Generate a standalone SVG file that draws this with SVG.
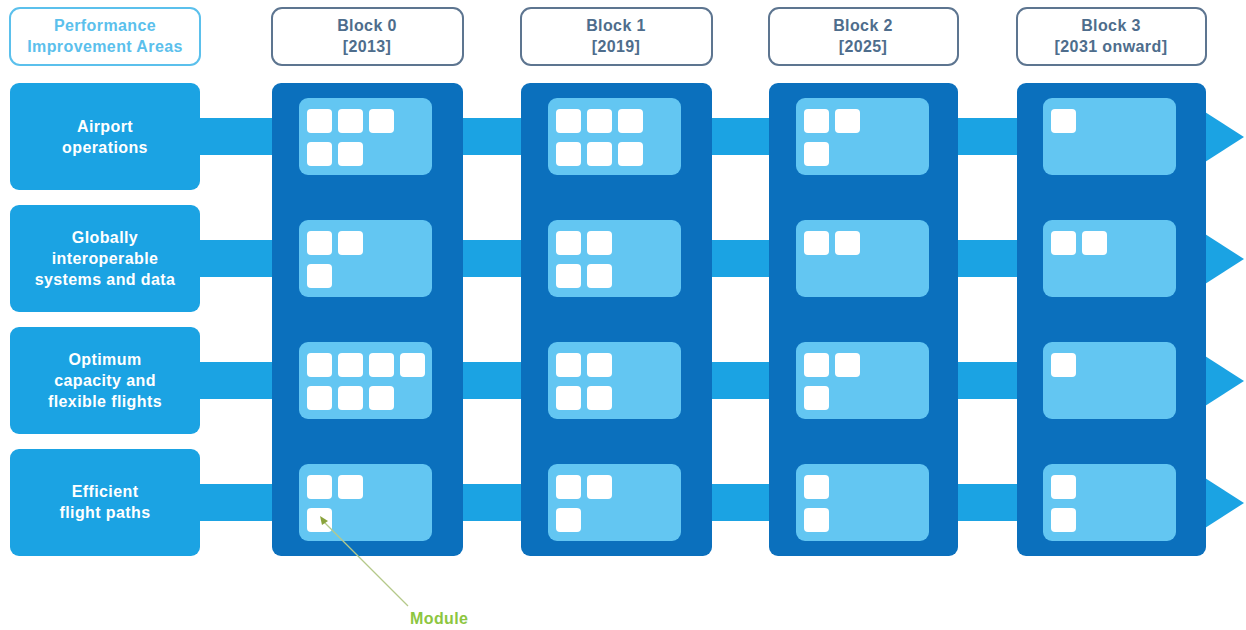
<svg xmlns="http://www.w3.org/2000/svg" width="1246" height="630" viewBox="0 0 1246 630">
<style>
.hdr{fill:#fff;stroke-width:2}
.pia-h{stroke:#5bc0ec}
.blk-h{stroke:#5d7590}
.pia{fill:#1ba3e3}
.col{fill:#0b70bd}
.cell{fill:#63c6f2}
.mod{fill:#fff}
.band{fill:#1ba3e3}
.t{font-family:"Liberation Sans",Arial,sans-serif;font-weight:bold;font-size:16px;letter-spacing:0.4px;text-anchor:middle}
.tw{fill:#fff}
.tb{fill:#4e6d8c}
.tl{fill:#5bc0ec}
.tg{fill:#8dc63f;font-family:"Liberation Sans",Arial,sans-serif;font-weight:bold;font-size:16px;letter-spacing:0.4px}
</style>
<defs>
<rect id="m" width="25" height="24" rx="4" class="mod"/>
</defs>
<rect width="1246" height="630" fill="#fff"/>
<g id="hdr-pia"><rect class="hdr pia-h" x="10" y="8" width="190" height="57" rx="10"/><text class="t tl" x="105" y="31">Performance</text><text class="t tl" x="105" y="52">Improvement Areas</text></g>
<g id="hdr-b0"><rect class="hdr blk-h" x="272" y="8" width="191" height="57" rx="10"/><text class="t tb" x="367" y="31">Block 0</text><text class="t tb" x="367" y="52">[2013]</text></g>
<g id="hdr-b1"><rect class="hdr blk-h" x="521" y="8" width="191" height="57" rx="10"/><text class="t tb" x="616" y="31">Block 1</text><text class="t tb" x="616" y="52">[2019]</text></g>
<g id="hdr-b2"><rect class="hdr blk-h" x="769" y="8" width="189" height="57" rx="10"/><text class="t tb" x="863" y="31">Block 2</text><text class="t tb" x="863" y="52">[2025]</text></g>
<g id="hdr-b3"><rect class="hdr blk-h" x="1017" y="8" width="189" height="57" rx="10"/><text class="t tb" x="1111" y="31">Block 3</text><text class="t tb" x="1111" y="52">[2031 onward]</text></g>
<g id="connectors">
<rect class="band" x="198" y="118" width="1010" height="37"/>
<rect class="band" x="198" y="240" width="1010" height="37"/>
<rect class="band" x="198" y="362" width="1010" height="37"/>
<rect class="band" x="198" y="484" width="1010" height="37"/>
<polygon class="band" points="1205,112 1244,137 1205,162"/>
<polygon class="band" points="1205,234 1244,259 1205,284"/>
<polygon class="band" points="1205,356 1244,381 1205,406"/>
<polygon class="band" points="1205,478 1244,503 1205,528"/>
</g>
<g id="pia-1"><rect class="pia" x="10" y="83" width="190" height="107" rx="9"/><text class="t tw" x="105" y="132">Airport</text><text class="t tw" x="105" y="153">operations</text></g>
<g id="pia-2"><rect class="pia" x="10" y="205" width="190" height="107" rx="9"/><text class="t tw" x="105" y="243">Globally</text><text class="t tw" x="105" y="264">interoperable</text><text class="t tw" x="105" y="285">systems and data</text></g>
<g id="pia-3"><rect class="pia" x="10" y="327" width="190" height="107" rx="9"/><text class="t tw" x="105" y="365">Optimum</text><text class="t tw" x="105" y="386">capacity and</text><text class="t tw" x="105" y="407">flexible flights</text></g>
<g id="pia-4"><rect class="pia" x="10" y="449" width="190" height="107" rx="9"/><text class="t tw" x="105" y="497">Efficient</text><text class="t tw" x="105" y="518">flight paths</text></g>
<g id="block-0">
<rect class="col" x="272" y="83" width="191" height="473" rx="9"/>
<rect class="cell" x="299" y="98" width="133" height="77" rx="9"/>
<rect class="cell" x="299" y="220" width="133" height="77" rx="9"/>
<rect class="cell" x="299" y="342" width="133" height="77" rx="9"/>
<rect class="cell" x="299" y="464" width="133" height="77" rx="9"/>
<use href="#m" x="307" y="109"/><use href="#m" x="338" y="109"/><use href="#m" x="369" y="109"/><use href="#m" x="307" y="142"/><use href="#m" x="338" y="142"/>
<use href="#m" x="307" y="231"/><use href="#m" x="338" y="231"/><use href="#m" x="307" y="264"/>
<use href="#m" x="307" y="353"/><use href="#m" x="338" y="353"/><use href="#m" x="369" y="353"/><use href="#m" x="400" y="353"/><use href="#m" x="307" y="386"/><use href="#m" x="338" y="386"/><use href="#m" x="369" y="386"/>
<use href="#m" x="307" y="475"/><use href="#m" x="338" y="475"/><use href="#m" x="307" y="508"/>
</g>
<g id="block-1">
<rect class="col" x="521" y="83" width="191" height="473" rx="9"/>
<rect class="cell" x="548" y="98" width="133" height="77" rx="9"/>
<rect class="cell" x="548" y="220" width="133" height="77" rx="9"/>
<rect class="cell" x="548" y="342" width="133" height="77" rx="9"/>
<rect class="cell" x="548" y="464" width="133" height="77" rx="9"/>
<use href="#m" x="556" y="109"/><use href="#m" x="587" y="109"/><use href="#m" x="618" y="109"/><use href="#m" x="556" y="142"/><use href="#m" x="587" y="142"/><use href="#m" x="618" y="142"/>
<use href="#m" x="556" y="231"/><use href="#m" x="587" y="231"/><use href="#m" x="556" y="264"/><use href="#m" x="587" y="264"/>
<use href="#m" x="556" y="353"/><use href="#m" x="587" y="353"/><use href="#m" x="556" y="386"/><use href="#m" x="587" y="386"/>
<use href="#m" x="556" y="475"/><use href="#m" x="587" y="475"/><use href="#m" x="556" y="508"/>
</g>
<g id="block-2">
<rect class="col" x="769" y="83" width="189" height="473" rx="9"/>
<rect class="cell" x="796" y="98" width="133" height="77" rx="9"/>
<rect class="cell" x="796" y="220" width="133" height="77" rx="9"/>
<rect class="cell" x="796" y="342" width="133" height="77" rx="9"/>
<rect class="cell" x="796" y="464" width="133" height="77" rx="9"/>
<use href="#m" x="804" y="109"/><use href="#m" x="835" y="109"/><use href="#m" x="804" y="142"/>
<use href="#m" x="804" y="231"/><use href="#m" x="835" y="231"/>
<use href="#m" x="804" y="353"/><use href="#m" x="835" y="353"/><use href="#m" x="804" y="386"/>
<use href="#m" x="804" y="475"/><use href="#m" x="804" y="508"/>
</g>
<g id="block-3">
<rect class="col" x="1017" y="83" width="189" height="473" rx="9"/>
<rect class="cell" x="1043" y="98" width="133" height="77" rx="9"/>
<rect class="cell" x="1043" y="220" width="133" height="77" rx="9"/>
<rect class="cell" x="1043" y="342" width="133" height="77" rx="9"/>
<rect class="cell" x="1043" y="464" width="133" height="77" rx="9"/>
<use href="#m" x="1051" y="109"/>
<use href="#m" x="1051" y="231"/><use href="#m" x="1082" y="231"/>
<use href="#m" x="1051" y="353"/>
<use href="#m" x="1051" y="475"/><use href="#m" x="1051" y="508"/>
</g>
<g id="module-label">
<line x1="323" y1="521" x2="408" y2="606" stroke="#b5c98a" stroke-width="1.2"/>
<polygon points="320,516 328,521 322,525" fill="#8aa33c"/>
<text class="tg" x="410" y="624">Module</text>
</g>
</svg>
